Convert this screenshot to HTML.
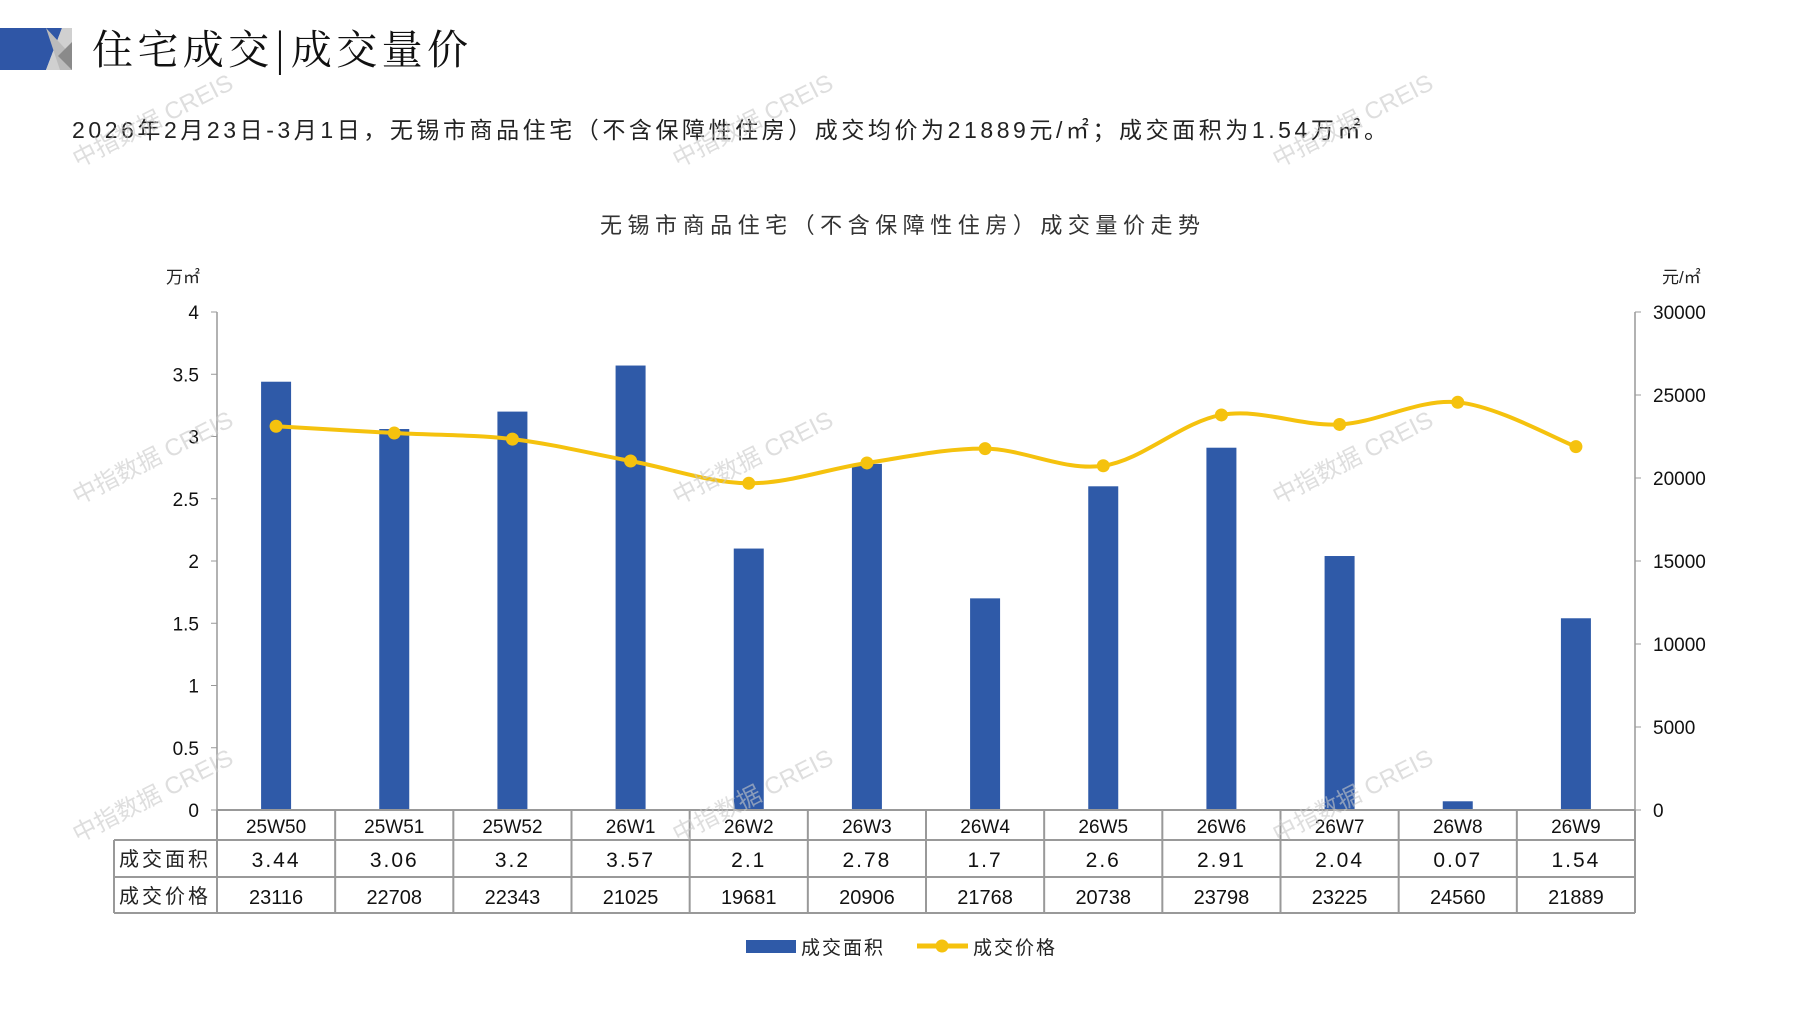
<!DOCTYPE html>
<html><head><meta charset="utf-8"><style>
body{margin:0;background:#fff;width:1797px;height:1010px;overflow:hidden;font-family:"Liberation Sans","Noto Sans CJK SC",sans-serif;}
svg text{font-family:"Liberation Sans","Noto Sans CJK SC",sans-serif;}
svg text.serif{font-family:"Noto Serif CJK SC","Liberation Serif",serif;}
</style></head><body>
<svg id="s" width="1797" height="1010" xmlns="http://www.w3.org/2000/svg">
<polygon points="0,28 62,28 46,70 0,70" fill="#2f56a6"/>
<polygon points="62,28 72,28 72,70 46,70" fill="#d0d0d0"/>
<polygon points="46,28 72,56 72,70 60,70" fill="#bbbbbb"/>
<polygon points="58,56 72,42 72,70" fill="#8a8a8a"/>
<text class="serif" x="92" y="64" font-size="41" fill="#111" textLength="376" lengthAdjust="spacing">住宅成交|成交量价</text>
<text x="72" y="138" font-size="23" fill="#222" textLength="1315" lengthAdjust="spacing">2026年2月23日-3月1日，无锡市商品住宅（不含保障性住房）成交均价为21889元/㎡；成交面积为1.54万㎡。</text>
<text x="600" y="233" font-size="22" fill="#333" textLength="600" lengthAdjust="spacing">无锡市商品住宅（不含保障性住房）成交量价走势</text>
<text x="166" y="283" font-size="17" fill="#222">万㎡</text>
<text x="1662" y="283" font-size="17" fill="#222">元/㎡</text>
<g id="g"></g>
</svg>
<script>
const s=document.getElementById('g');let h='';
const L=217,R=1635,T=312,B=810,n=12,w=(R-L)/n;
const cats=['25W50','25W51','25W52','26W1','26W2','26W3','26W4','26W5','26W6','26W7','26W8','26W9'];
const a=[3.44,3.06,3.2,3.57,2.1,2.78,1.7,2.6,2.91,2.04,0.07,1.54];
const p=[23116,22708,22343,21025,19681,20906,21768,20738,23798,23225,24560,21889];
h+=`<line x1="${L}" y1="${T}" x2="${L}" y2="${B}" stroke="#999" stroke-width="1.5"/>`;
h+=`<line x1="${R}" y1="${T}" x2="${R}" y2="${B}" stroke="#999" stroke-width="1.5"/>`;
for(let i=0;i<=8;i++){const y=B-(B-T)*i/8;h+=`<line x1="${L-6}" x2="${L}" y1="${y}" y2="${y}" stroke="#999"/><text x="${L-18}" y="${y+7}" font-size="19" text-anchor="end" fill="#111">${i/2}</text>`;}
for(let i=0;i<=6;i++){const y=B-(B-T)*i/6;h+=`<line x1="${R}" x2="${R+6}" y1="${y}" y2="${y}" stroke="#999"/><text x="${R+18}" y="${y+7}" font-size="19" fill="#111">${i*5000}</text>`;}
a.forEach((v,i)=>{const cx=L+w*(i+.5),hh=v/4*(B-T);h+=`<rect x="${cx-15}" y="${B-hh}" width="30" height="${hh}" fill="#2f5aa8"/>`;});
const pts=p.map((v,i)=>[L+w*(i+.5),B-v/30000*(B-T)]);
let d=`M${pts[0]}`;
for(let i=0;i<pts.length-1;i++){const p0=pts[Math.max(0,i-1)],p1=pts[i],p2=pts[i+1],p3=pts[Math.min(pts.length-1,i+2)];
d+=` C${p1[0]+(p2[0]-p0[0])/6},${p1[1]+(p2[1]-p0[1])/6} ${p2[0]-(p3[0]-p1[0])/6},${p2[1]-(p3[1]-p1[1])/6} ${p2[0]},${p2[1]}`;}
h+=`<path d="${d}" fill="none" stroke="#f5c20e" stroke-width="4"/>`;
pts.forEach(q=>h+=`<circle cx="${q[0]}" cy="${q[1]}" r="6.5" fill="#f5c20e"/>`);
const TL=114;
h+=`<line x1="${L}" y1="810" x2="${R}" y2="810" stroke="#999" stroke-width="2"/>`;
h+=`<line x1="${TL}" y1="840" x2="${R}" y2="840" stroke="#999" stroke-width="2"/>`;
h+=`<line x1="${TL}" y1="877" x2="${R}" y2="877" stroke="#999" stroke-width="2"/>`;
h+=`<line x1="${TL}" y1="913" x2="${R}" y2="913" stroke="#999" stroke-width="2"/>`;
h+=`<line x1="${TL}" y1="840" x2="${TL}" y2="913" stroke="#999" stroke-width="2"/>`;
for(let i=0;i<=n;i++){const x=L+w*i;h+=`<line x1="${x}" y1="810" x2="${x}" y2="913" stroke="#999" stroke-width="2"/>`;}
cats.forEach((c,i)=>{const cx=L+w*(i+.5);
h+=`<text x="${cx}" y="833" font-size="19" text-anchor="middle" fill="#111">${c}</text>`;
h+=`<text x="${cx}" y="867" font-size="21" text-anchor="middle" fill="#111" letter-spacing="2">${a[i]}</text>`;
h+=`<text x="${cx}" y="904" font-size="20" text-anchor="middle" fill="#111">${p[i]}</text>`;});
h+=`<text x="165" y="866" font-size="20" text-anchor="middle" fill="#222" letter-spacing="3">成交面积</text>`;
h+=`<text x="165" y="903" font-size="20" text-anchor="middle" fill="#222" letter-spacing="3">成交价格</text>`;
h+=`<rect x="746" y="940" width="50" height="13" fill="#2f5aa8"/><text x="801" y="954" font-size="19" fill="#222" letter-spacing="2">成交面积</text>`;
h+=`<line x1="917" y1="946" x2="968" y2="946" stroke="#f5c20e" stroke-width="5"/><circle cx="942" cy="946" r="6.5" fill="#f5c20e"/><text x="973" y="954" font-size="19" fill="#222" letter-spacing="2">成交价格</text>`;
[[78,168],[678,168],[1278,168],[78,505],[678,505],[1278,505],[78,843],[678,843],[1278,843]].forEach(q=>{
h+=`<text x="${q[0]}" y="${q[1]}" font-size="24" fill="#c8c8c8" fill-opacity="0.6" transform="rotate(-27 ${q[0]} ${q[1]})">中指数据 CREIS</text>`;});
s.innerHTML=h;
</script>
</body></html>
